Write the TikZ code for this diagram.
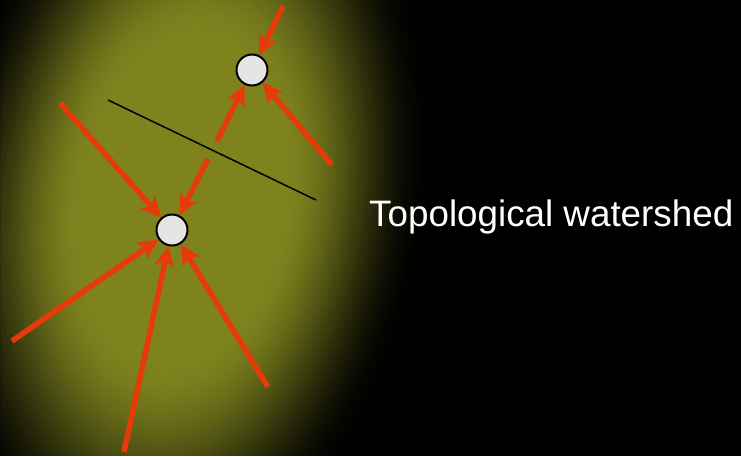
\documentclass[tikz,border=0pt]{standalone}
\usepackage{fontspec}
\setmainfont{Liberation Sans}
\usetikzlibrary{arrows.meta}
\definecolor{olivec}{RGB}{127,131,30}
\definecolor{redarrow}{RGB}{230,58,8}
\definecolor{dotfill}{RGB}{229,229,229}
\tikzset{
  dot/.style={circle, draw=black, line width=2pt, fill=dotfill, minimum size=31pt, inner sep=0pt},
  flow/.style={draw=redarrow, line width=5.5pt, -{Stealth[length=20pt,width=19pt,inset=4.5pt]}},
  divide/.style={draw=black, line width=1.5pt},
  label/.style={text=white, font=\fontsize{36.8}{42}\selectfont, inner sep=0pt}
}
\begin{document}
\begin{tikzpicture}[x=1pt,y=-1pt]
\useasboundingbox (0,0) rectangle (741,456);
\fill[black] (0,0) rectangle (741,456);
\begin{scope}
\clip (0.5,0.5) rectangle (740.5,455.5);
% glow
\foreach \i in {0,...,60} {
  \pgfmathsetmacro\tt{1-\i*0.01}
  \pgfmathsetmacro\ss{(\tt-0.4)/0.6}
  \pgfmathsetmacro\pp{100*(1-3*\ss*\ss+2*\ss*\ss*\ss)}
  \fill[olivec!\pp!black, rotate around={-9:(183,200)}] (183,200) ellipse [x radius=\tt*245pt, y radius=\tt*400pt];
}
\end{scope}
% divide line
\coordinate (l1) at (108,100);
\coordinate (l2) at (316,200);
\draw[divide] (l1) -- (l2);
% nodes
\node[dot] (top) at (252,70) {};
\node[dot] (bot) at (172,230) {};
% free ends
\coordinate (a1) at (283,6);
\coordinate (a2) at (217,141);
\coordinate (a3) at (332,165);
\coordinate (b1) at (60,103);
\coordinate (b2) at (208,159);
\coordinate (b3) at (12,341);
\coordinate (b4) at (124,452);
\coordinate (b5) at (268,387);
\draw[flow] (a1) -- (top);
\draw[flow] (a2) -- (top);
\draw[flow] (a3) -- (top);
\draw[flow] (b1) -- (bot);
\draw[flow] (b2) -- (bot);
\draw[flow] (b3) -- (bot);
\draw[flow] (b4) -- (bot);
\draw[flow] (b5) -- (bot);
\node[label, anchor=base west] (title) at (369,226.7) {Topological watershed};
\end{tikzpicture}
\end{document}
